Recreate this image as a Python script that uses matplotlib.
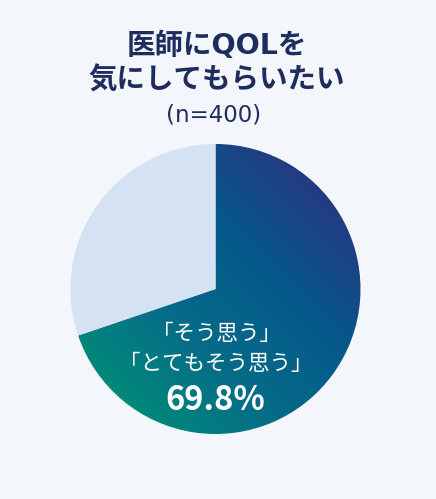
import numpy as np
import matplotlib
matplotlib.use("Agg")
import matplotlib.pyplot as plt
from matplotlib.patches import Wedge
from matplotlib.colors import LinearSegmentedColormap

plt.rcParams['font.family'] = ['Noto Sans CJK JP', 'DejaVu Sans']
LATIN_FIRST = ['DejaVu Sans', 'Noto Sans CJK JP']

# Data
categories = ["「そう思う」\n「とてもそう思う」", "その他"]
values = [69.8, 30.2]
title_lines = ["医師にQOLを", "気にしてもらいたい"]
subtitle = "(n=400)"

BG = "#f3f6fb"
TITLE_C = "#1e2d5e"
LIGHT = "#d4e2f4"

W, H = 436, 499
fig = plt.figure(figsize=(W / 100, H / 100), dpi=100, facecolor=BG)
ax = fig.add_axes([0, 0, 1, 1])
ax.set_xlim(0, W)
ax.set_ylim(H, 0)
ax.set_facecolor(BG)
ax.axis("off")

cx, cy, r = 215.5, 289.0, 145.0
total = sum(values)
start = 90.0
angles = []
a = start
for v in values:
    sweep = 360.0 * v / total
    angles.append((a - sweep, a))
    a -= sweep

def wedge(theta1, theta2, **kw):
    # angles in math orientation (y up); y axis is inverted, so negate
    return Wedge((cx, cy), r, -theta2, -theta1, **kw)

# main slice with gradient
t1, t2 = angles[0]
w0 = wedge(t1, t2, facecolor="none", edgecolor="none")
ax.add_patch(w0)
cmap = LinearSegmentedColormap.from_list("g", ["#00897a", "#066b88", "#05598a", "#253a80"])
n = 400
xs = np.linspace(cx - r, cx + r, n)
ys = np.linspace(cy - r, cy + r, n)
X, Y = np.meshgrid(xs, ys)
# projection along bottom-left -> top-right diagonal, normalized to the circle
proj = ((X - cx) + (cy - Y)) / np.sqrt(2)
u = np.clip((proj / r + 1) / 2, 0, 1)
im = ax.imshow(u, cmap=cmap, extent=(cx - r, cx + r, cy + r, cy - r),
               origin="upper", interpolation="bilinear", vmin=0, vmax=1, zorder=1)
im.set_clip_path(w0)

t1, t2 = angles[1]
ax.add_patch(wedge(t1, t2, facecolor=LIGHT, edgecolor="none", zorder=1))

# Titles
ax.text(217, 46, title_lines[0], ha="center", va="center", fontsize=20.5,
        fontweight="bold", color=TITLE_C, family=LATIN_FIRST)
ax.text(217, 81, title_lines[1], ha="center", va="center", fontsize=20.5,
        fontweight="bold", color=TITLE_C)
ax.text(214, 115, subtitle, ha="center", va="center", fontsize=16.5,
        color=TITLE_C, family=LATIN_FIRST)

# Label
ax.text(216, 349, categories[0], ha="center", va="center", fontsize=15.5,
        color="white", linespacing=1.45, zorder=3)
ax.text(215, 400, f"{values[0]}%", ha="center", va="center", fontsize=23.5,
        fontweight="bold", color="white", zorder=3)

fig.savefig("out.png", dpi=100, facecolor=BG)
